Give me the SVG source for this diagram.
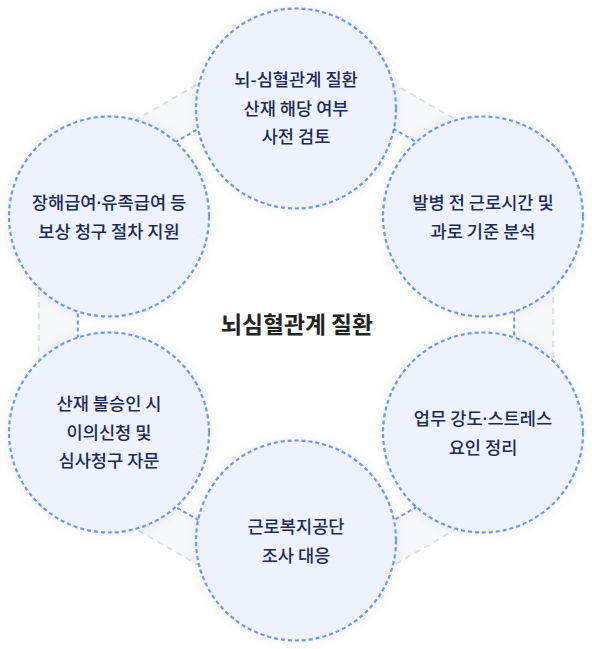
<svg xmlns="http://www.w3.org/2000/svg" width="592" height="649" viewBox="0 0 592 649">
<defs>
<filter id="sh" x="-20%" y="-20%" width="140%" height="140%">
<feDropShadow dx="0" dy="0" stdDeviation="5" flood-color="#5a6b90" flood-opacity="0.14"/>
</filter>
<style>
.outer{fill:#f6f7f9;stroke:#dcdfe4;stroke-width:2;stroke-dasharray:6 5}
.inner{fill:#ffffff;stroke:#6e98ea;stroke-width:2;stroke-dasharray:4 3}
.c{fill:#edf2fd;stroke:#6e98ea;stroke-width:2.2;stroke-dasharray:4 3;filter:url(#sh)}
.t{font-family:"Noto Sans CJK KR","Noto Sans",sans-serif;font-size:17.6px;font-weight:500;fill:#1c2a56;text-anchor:middle}
.ct{font-family:"Noto Sans CJK KR","Noto Sans",sans-serif;font-size:22.8px;font-weight:700;fill:#222222;text-anchor:middle}
.dot{font-family:"Noto Sans",sans-serif}
</style>
</defs>
<rect width="592" height="649" fill="#ffffff"/>
<g id="connectors">
<polygon class="outer" points="296,27.5 553.2,176 553.2,473 296,621.5 38.8,473 38.8,176"/>
<polygon class="inner" points="296,72.5 514.2,198.5 514.2,450.5 296,576.5 77.8,450.5 77.8,198.5"/>
</g>
<g id="center">
<text class="ct" x="297" y="333">뇌심혈관계 질환</text>
</g>
<g id="n1">
<circle class="c" cx="296" cy="108.5" r="100"/>
<text class="t" x="296" y="86">뇌-심혈관계 질환</text>
<text class="t" x="296" y="114.5">산재 해당 여부</text>
<text class="t" x="296" y="143">사전 검토</text>
</g>
<g id="n2">
<circle class="c" cx="483" cy="216.5" r="100"/>
<text class="t" x="483" y="209">발병 전 근로시간 및</text>
<text class="t" x="483" y="237.5">과로 기준 분석</text>
</g>
<g id="n3">
<circle class="c" cx="483" cy="432.5" r="100"/>
<text class="t" x="483" y="425">업무 강도<tspan class="dot">·</tspan>스트레스</text>
<text class="t" x="483" y="453.5">요인 정리</text>
</g>
<g id="n4">
<circle class="c" cx="296" cy="540.5" r="100"/>
<text class="t" x="296" y="533">근로복지공단</text>
<text class="t" x="296" y="561.5">조사 대응</text>
</g>
<g id="n5">
<circle class="c" cx="109" cy="432.5" r="100"/>
<text class="t" x="109" y="410">산재 불승인 시</text>
<text class="t" x="109" y="438.5">이의신청 및</text>
<text class="t" x="109" y="467">심사청구 자문</text>
</g>
<g id="n6">
<circle class="c" cx="109" cy="216.5" r="100"/>
<text class="t" x="109" y="209">장해급여<tspan class="dot">·</tspan>유족급여 등</text>
<text class="t" x="109" y="237.5">보상 청구 절차 지원</text>
</g>
</svg>
